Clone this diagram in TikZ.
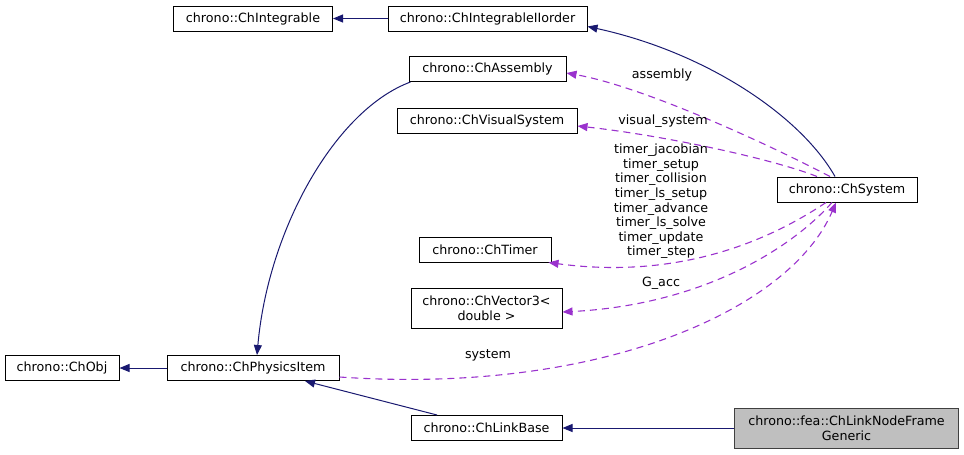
\documentclass[tikz,border=0pt]{standalone}
\usepackage{fontspec}
\setmainfont{DejaVu Sans}
\usetikzlibrary{arrows.meta}
\definecolor{navyedge}{HTML}{191970}
\definecolor{orchidedge}{HTML}{9A32CD}
\definecolor{mainfill}{HTML}{BFBFBF}
\begin{document}
\begin{tikzpicture}[x=1pt,y=-1pt,
  font=\fontsize{12.7}{14.6}\selectfont,
  cls/.style={draw=black, line width=1pt, inner sep=0pt, minimum height=25pt, align=center, fill=white},
  mainnode/.style={cls, fill=mainfill, draw=black!75},
  inh/.style={draw=navyedge, line width=1pt, -{Triangle[length=10pt,width=8pt]}},
  mem/.style={draw=orchidedge, line width=1.1pt, dash pattern=on 7pt off 5pt, -{Triangle[length=10pt,width=8pt]}},
  lbl/.style={inner sep=0pt, align=center}]
\useasboundingbox (0,0) rectangle (964,455);
% nodes
\node[cls, minimum width=159] (integ) at (253,18.5) {chrono::ChIntegrable};
\node[cls, minimum width=199] (integII) at (487.5,18.5) {chrono::ChIntegrableIIorder};
\node[cls, minimum width=157] (assem) at (487.5,69) {chrono::ChAssembly};
\node[cls, minimum width=180] (vis) at (487,121) {chrono::ChVisualSystem};
\node[cls, minimum width=140] (sys) at (847,189.5) {chrono::ChSystem};
\node[cls, minimum width=132] (timer) at (485,249.5) {chrono::ChTimer};
\node[cls, minimum width=151, minimum height=40] (vec) at (486.5,308) {chrono::ChVector3<\\double >};
\node[cls, minimum width=114] (obj) at (62,368) {chrono::ChObj};
\node[cls, minimum width=172] (phys) at (253,368) {chrono::ChPhysicsItem};
\node[cls, minimum width=151] (link) at (486.5,428) {chrono::ChLinkBase};
\node[mainnode, minimum width=224, minimum height=40] (gen) at (846.5,428) {chrono::fea::ChLinkNodeFrame\\Generic};
% inheritance edges
\draw[inh] (integII) -- (integ);
\draw[inh] ([xshift=-12pt]sys.north) .. controls (800,115) and (705,52) .. ([yshift=-8pt]integII.east);
\draw[inh] ([xshift=2pt]assem.south west) .. controls (335,110) and (268,230) .. ([xshift=4pt]phys.north);
\draw[inh] ([xshift=-49.5pt]link.north) -- ([xshift=52pt]phys.south);
\draw[inh] (phys) -- (obj);
\draw[inh] (gen) -- (link);
% member edges
\draw[mem] ([xshift=-17pt]sys.north) .. controls (760,140) and (640,86) .. ([yshift=-4pt]assem.east);
\draw[mem] ([xshift=-30pt]sys.north) .. controls (770,158) and (660,135) .. ([yshift=-5pt]vis.east);
\draw[mem] ([xshift=-21pt]sys.south) .. controls (770,240) and (680,280) .. ([xshift=-3pt]timer.south east);
\draw[mem] ([xshift=-15pt]sys.south) .. controls (790,250) and (700,305) .. ([yshift=-4pt]vec.east);
\draw[mem] ([yshift=-9pt]phys.east) .. controls (600,395) and (790,310) .. ([xshift=-11pt]sys.south);
% labels
\node[lbl] (lassem) at (662,75) {assembly};
\node[lbl] (lvis) at (663,121) {visual\_system};
\node[lbl] (ltimer) at (661,201.5) {timer\_jacobian\\timer\_setup\\timer\_collision\\timer\_ls\_setup\\timer\_advance\\timer\_ls\_solve\\timer\_update\\timer\_step};
\node[lbl] (lgacc) at (661,283) {G\_acc};
\node[lbl] (lsys) at (488,355) {system};
\end{tikzpicture}
\end{document}
